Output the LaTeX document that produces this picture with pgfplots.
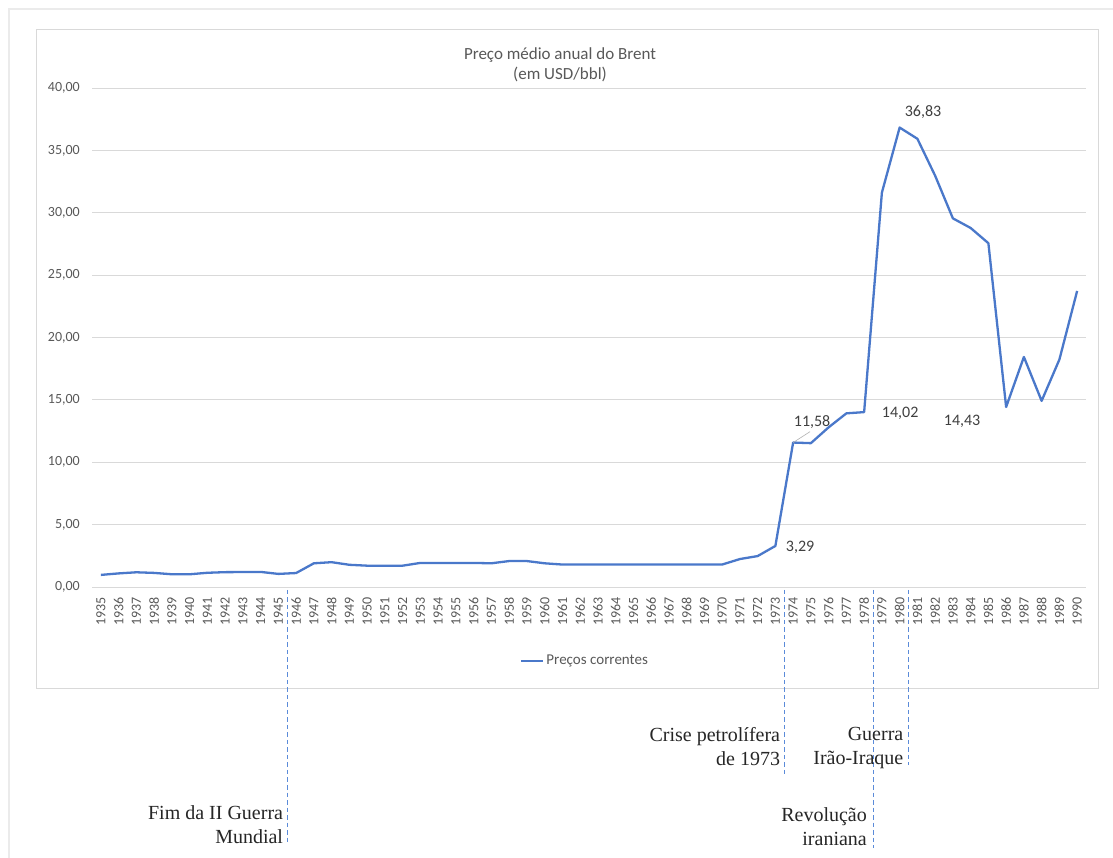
\documentclass[border=0pt]{standalone}
\usepackage{pgfplots}
\pgfplotsset{compat=1.18}
\usepackage{pgfplotstable}
\usepackage{fontspec}
\setmainfont{Carlito}
\newfontfamily\serif{Liberation Serif}
\definecolor{lineblue}{HTML}{4A78CA}
\definecolor{dashblue}{HTML}{5B8BD9}
\definecolor{gridgray}{HTML}{D9D9D9}
\definecolor{txtgray}{HTML}{595959}
\definecolor{lblgray}{HTML}{404040}

\pgfplotstableread{
year price
1935 0.97
1936 1.09
1937 1.18
1938 1.13
1939 1.02
1940 1.02
1941 1.14
1942 1.19
1943 1.20
1944 1.21
1945 1.05
1946 1.12
1947 1.90
1948 1.99
1949 1.78
1950 1.71
1951 1.71
1952 1.71
1953 1.93
1954 1.93
1955 1.93
1956 1.93
1957 1.90
1958 2.08
1959 2.08
1960 1.90
1961 1.80
1962 1.80
1963 1.80
1964 1.80
1965 1.80
1966 1.80
1967 1.80
1968 1.80
1969 1.80
1970 1.80
1971 2.24
1972 2.48
1973 3.29
1974 11.58
1975 11.53
1976 12.80
1977 13.92
1978 14.02
1979 31.61
1980 36.83
1981 35.93
1982 32.97
1983 29.55
1984 28.78
1985 27.56
1986 14.43
1987 18.44
1988 14.92
1989 18.23
1990 23.73
}\brent

\begin{document}
\begin{tikzpicture}[x=1pt,y=1pt]
\useasboundingbox (0pt,0pt) rectangle (1113pt,857pt);
\fill[white] (0pt,0pt) rectangle (1113pt,857pt);
% outer frame
\draw[black!8, line width=2.5pt] (9pt,-5pt) -- (9pt,848pt) -- (1125pt,848pt);
% chart frame
\draw[gridgray, line width=1pt] (36pt,169pt) rectangle (1098pt,827pt);
% title
\node[align=center, text=txtgray, font=\fontsize{17}{20.5}\selectfont, inner sep=0pt] at (560pt,792pt) {Preço médio anual do Brent\\(em USD/bbl)};
\begin{axis}[
  at={(92pt,270pt)}, anchor=south west,
  scale only axis, width=994pt, height=499pt,
  xmin=1934.5, xmax=1990.5, ymin=0, ymax=40,
  clip=false,
  axis lines*=left,
  x axis line style={draw=gridgray, line width=1pt, -},
  y axis line style={draw=none},
  tick style={draw=none},
  ymajorgrids, grid style={gridgray, line width=0.9pt},
  ytick={0,5,...,40},
  xtick=data,
  /pgf/number format/assume math mode=true,
  every tick label/.append style={font=\fontsize{14}{16}\selectfont, text=txtgray, inner sep=0pt},
  y tick label style={/pgf/number format/.cd, fixed, fixed zerofill, precision=2, use comma, /tikz/.cd, xshift=-12pt},
  x tick label style={/pgf/number format/.cd, fixed, precision=0, 1000 sep={}, /tikz/.cd, yshift=-10pt, rotate=90, anchor=east},
  legend style={at={(0.496,-0.148)}, anchor=center, draw=none, fill=none,
    font=\fontsize{15}{18}\selectfont, text=txtgray, inner sep=0pt},
  legend image code/.code={\draw[#1] (0pt,0pt) -- (22pt,0pt);},
]
\addplot[lineblue, line width=2.3pt, line join=round] table[x=year, y=price] {\brent};
\addlegendentry{Preços correntes}

% data labels
\begin{scope}[every node/.style={font=\fontsize{16}{18}\selectfont, text=lblgray, inner sep=0pt}]
\node at (axis cs:1974.39,3.21) {3,29};
\draw[gray!60, line width=0.6pt] (axis cs:1974,11.58) -- (axis cs:1974.95,12.45);
\node at (axis cs:1975.07,13.23) {11,58};
\node at (axis cs:1980.03,13.95) {14,02};
\node at (axis cs:1981.32,38.08) {36,83};
\node at (axis cs:1983.52,13.31) {14,43};
\end{scope}

% event lines
\begin{scope}[dashblue, line width=1pt, dash pattern=on 4.5pt off 3pt]
\draw (axis cs:1945.5,-0.24) -- (axis cs:1945.5,-20.68);
\draw (axis cs:1973.5,-0.24) -- (axis cs:1973.5,-15.07);
\draw (axis cs:1978.5,-0.24) -- (axis cs:1978.5,-20.92);
\draw (axis cs:1980.5,-0.24) -- (axis cs:1980.5,-14.27);
\end{scope}
\begin{scope}[every node/.style={font=\serif\fontsize{20}{24}\selectfont, text=black!85, align=right, anchor=east, inner sep=0pt}]
\node at ([xshift=-4pt]axis cs:1945.5,-19.08) {Fim da II Guerra\\Mundial};
\node at ([xshift=-4pt]axis cs:1973.5,-12.75) {Crise petrolífera\\de 1973};
\node at ([xshift=-5pt]axis cs:1980.5,-12.9) {Guerra\\Irão-Iraque};
\node at ([xshift=-6pt]axis cs:1978.5,-19.24) {Revolução\\iraniana};
\end{scope}
\end{axis}
\end{tikzpicture}
\end{document}
